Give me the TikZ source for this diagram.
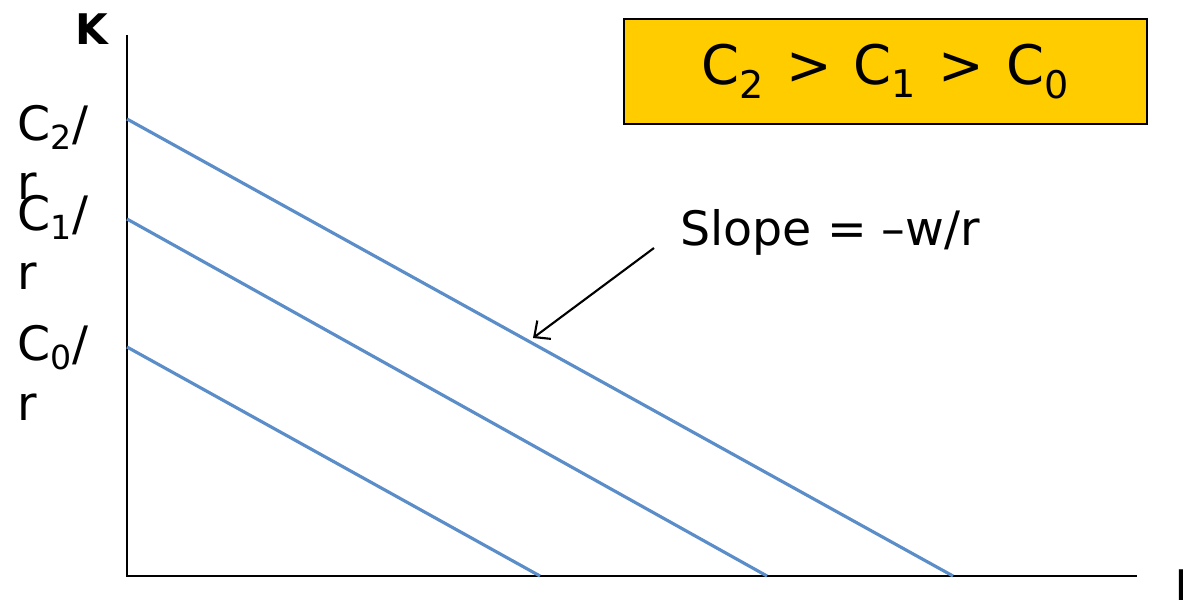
\documentclass[tikz,border=0pt]{standalone}
\usepackage{fontspec}
\setmainfont{DejaVu Sans}
\usepackage{xcolor}
\usetikzlibrary{arrows.meta, positioning}
\definecolor{isoblue}{HTML}{5B8DC8}
\definecolor{boxgold}{HTML}{FFCC00}

\begin{document}
\begin{tikzpicture}[x=0.02cm, y=-0.02cm,
    axis/.style={draw, line width=1.1pt},
    budget/.style={draw=isoblue, line width=1.8pt},
    lbl/.style={inner sep=0pt, anchor=base west, align=left, font=\fontsize{27}{34}\selectfont},
    axlbl/.style={inner sep=0pt, anchor=base west, font=\fontsize{24}{30}\selectfont\bfseries},
    note/.style={draw, line width=0.8pt, fill=boxgold, minimum width=10.46cm, minimum height=2.1cm, font=\fontsize{31}{38}\selectfont},
    pointer/.style={draw, line width=1.2pt, -{Straight Barb[length=7pt, width=13pt]}}
]
    \useasboundingbox (0,0) rectangle (1183,601);

    % axes
    \coordinate (origin) at (127,576);
    \coordinate (ktop)   at (127,35);
    \coordinate (lend)   at (1137,576);
    \draw[axis] (ktop) -- (origin) -- (lend);
    \node[axlbl] (klbl) at (75,45)   {K};
    \node[axlbl] (llbl) at (1175,600) {L};

    % isocost lines
    \coordinate (c2) at (127,119);  \coordinate (l2) at (953,576);
    \coordinate (c1) at (127,219);  \coordinate (l1) at (767,576);
    \coordinate (c0) at (127,347);  \coordinate (l0) at (540,576);
    \draw[budget] (c2) -- (l2);
    \draw[budget] (c1) -- (l1);
    \draw[budget] (c0) -- (l0);

    % intercept labels (base = last line)
    \node[lbl] (c2lbl) at (17,200) {C\textsubscript{2}/\\r};
    \node[lbl] (c1lbl) at (17,290) {C\textsubscript{1}/\\r};
    \node[lbl] (c0lbl) at (17,420) {C\textsubscript{0}/\\r};

    % ordering box
    \node[note] (order) at (885.5,71.5) {C\textsubscript{2}\hspace{0.4em}>\hspace{0.4em}C\textsubscript{1}\hspace{0.4em}>\hspace{0.4em}C\textsubscript{0}};

    % slope annotation
    \node[lbl] (slope) at (680,246) {Slope = –w/r};
    \coordinate (tail) at (654,248);
    \coordinate (head) at (533,338);
    \draw[pointer] (tail) -- (head);
\end{tikzpicture}
\end{document}
